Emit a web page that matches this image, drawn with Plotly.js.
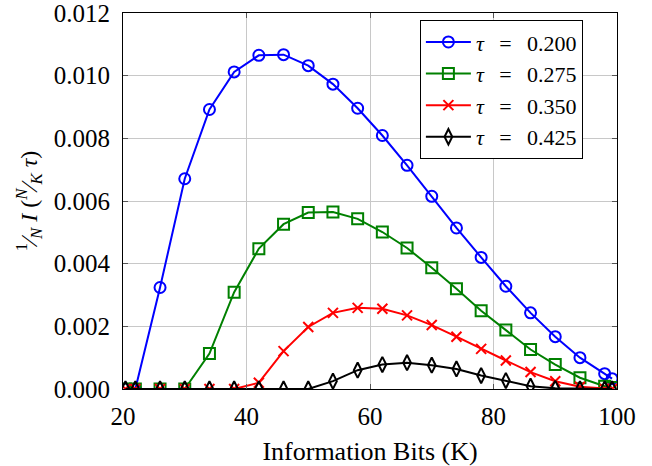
<!DOCTYPE html>
<html>
<head>
<meta charset="utf-8">
<script src="https://cdn.plot.ly/plotly-3.0.1.min.js"></script>
<style>html,body{margin:0;padding:0;background:#fff;}#chart{width:652px;height:466px;}</style>
</head>
<body>
<div id="chart"></div>
<script>
const kBits = [20.4, 22, 26, 30, 34, 38, 42, 46, 50, 54, 58, 62, 66, 70, 74, 78, 82, 86, 90, 94, 98, 99.2];
const tau200 = [0, 0, 0.00324, 0.00671, 0.00892, 0.01012, 0.01065, 0.01067, 0.01032, 0.00973, 0.00896, 0.00809, 0.00714, 0.00615, 0.00514, 0.00420, 0.00328, 0.00243, 0.00167, 0.00100, 0.00049, 0.00033];
const tau275 = [0, 0, 0, 0, 0.00113, 0.00309, 0.00448, 0.00526, 0.00563, 0.00565, 0.00543, 0.00501, 0.00450, 0.00387, 0.00320, 0.00250, 0.00188, 0.00126, 0.00078, 0.00036, 0.00009, 0.00005];
const tau350 = [0, 0, 0, 0, 0, 0, 0.00020, 0.00121, 0.00198, 0.00243, 0.00259, 0.00256, 0.00235, 0.00204, 0.00167, 0.00128, 0.00091, 0.00054, 0.00025, 0.00007, 0, 0];
const tau425 = [0, 0, 0, 0, 0, 0, 0, 0, 0, 0.00025, 0.00060, 0.00078, 0.00084, 0.00076, 0.00064, 0.00043, 0.00027, 0.00009, 0.00002, 0, 0, 0];
const seriesNames = ['<i>τ</i>\u2002\u2009=\u2002\u20090.200', '<i>τ</i>\u2002\u2009=\u2002\u20090.275', '<i>τ</i>\u2002\u2009=\u2002\u20090.350', '<i>τ</i>\u2002\u2009=\u2002\u20090.425'];
const xTicks = [20, 40, 60, 80, 100];
const yTicks = [0, 0.002, 0.004, 0.006, 0.008, 0.010, 0.012];

const FONT = 'Liberation Serif';
const mk = (y, name, color, symbol, size) => ({
  x: kBits, y: y, name: name, type: 'scatter', mode: 'lines+markers',
  line: {color: color, width: 2},
  marker: {symbol: symbol, size: size, color: color, line: {color: color, width: 2}}
});
const data = [
  mk(tau200, seriesNames[0], '#0000ff', 'circle-open', 11),
  mk(tau275, seriesNames[1], '#008000', 'square-open', 11),
  mk(tau350, seriesNames[2], '#ff0000', 'x-thin-open', 10),
  mk(tau425, seriesNames[3], '#000000', 'diamond-tall-open', 11)
];
const layout = {
  width: 652, height: 466,
  margin: {l: 123, r: 35, t: 13, b: 77},
  paper_bgcolor: '#fff', plot_bgcolor: '#fff',
  font: {family: FONT, color: '#000', size: 24},
  xaxis: {
    range: [20, 100], tickvals: xTicks, ticktext: xTicks.map(String),
    showgrid: true, gridcolor: '#c8c8c8', gridwidth: 1, zeroline: false,
    showline: true, linecolor: '#000', linewidth: 1, mirror: 'ticks',
    ticks: 'inside', ticklen: 5, tickcolor: '#555', ticklabelstandoff: 5, ticklabeloverflow: 'allow',
    tickfont: {family: FONT, size: 25, color: '#000'},
    title: {text: 'Information Bits (K)', font: {family: FONT, size: 26, color: '#000'}, standoff: 14}
  },
  yaxis: {
    range: [0, 0.012], tickvals: yTicks, ticktext: yTicks.map(v => v.toFixed(3)),
    showgrid: true, gridcolor: '#c8c8c8', gridwidth: 1, zeroline: false,
    showline: true, linecolor: '#000', linewidth: 1, mirror: 'ticks',
    ticks: 'inside', ticklen: 5, tickcolor: '#555', ticklabelstandoff: 7, ticklabeloverflow: 'allow',
    tickfont: {family: FONT, size: 25, color: '#000'},
    title: {text: '<sup>1</sup>⁄<sub><i>N</i></sub> <i>I</i> (<sup><i>N</i></sup>⁄<sub><i>K</i></sub> <i>τ</i>)', font: {family: FONT, size: 24, color: '#000'}, standoff: 9}
  },
  legend: {
    x: 0.601, y: 0.981, xanchor: 'left', yanchor: 'top',
    bgcolor: '#fff', bordercolor: '#000', borderwidth: 1,
    font: {family: FONT, size: 22, color: '#000'}, tracegroupgap: 0, itemwidth: 45
  },
  showlegend: true
};
Plotly.newPlot('chart', data, layout, {displayModeBar: false, staticPlot: true});
</script>
</body>
</html>
